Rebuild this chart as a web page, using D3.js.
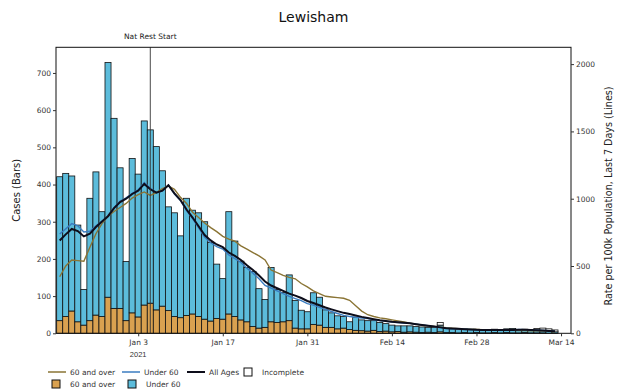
<!DOCTYPE html>
<html><head><meta charset="utf-8">
<script src="https://cdn.jsdelivr.net/npm/d3@7"></script>
<style>body{margin:0;background:#fff}svg{display:block;font-family:"DejaVu Sans",sans-serif}</style>
</head><body><svg id="c" width="620" height="391"></svg>
<script>
// ---- data ----
const title = "Lewisham";
const startDate = "2020-12-21";
const casesOver60 = [34,45,60,31,22,34,49,45,97,67,67,34,55,44,76,81,63,73,61,45,42,48,52,45,38,33,40,38,52,45,36,31,18,14,16,31,29,31,34,14,12,12,24,22,16,16,12,14,10,8,7,6,8,5,6,4,5,3,4,3,2,3,2,4,2,2,1,2,1,2,1,1,2,1,2,1,1,2,1,1,1,0,0];
const casesTotal = [421,430,423,291,118,363,434,327,728,578,445,193,470,428,571,547,502,437,340,324,262,363,331,324,300,244,186,147,327,248,194,177,166,120,91,177,118,110,157,88,62,58,109,97,63,55,47,45,31,43,36,34,34,29,26,22,20,20,20,18,17,16,16,22,14,12,11,12,10,11,9,10,11,9,12,13,10,11,10,9,8,6,4];
const casesIncomplete = [0,0,0,0,0,0,0,0,0,0,0,0,0,0,0,0,0,0,0,0,0,0,0,0,0,0,0,0,0,0,0,0,0,0,0,0,0,0,0,0,0,0,0,0,0,0,0,0,0,0,0,0,0,0,0,0,0,0,0,0,0,0,0,7,0,0,0,0,0,0,0,0,0,0,0,0,0,0,0,4,6,6,5];
const rateAll = [690,735,775,760,720,740,790,830,870,930,975,1000,1035,1060,1110,1070,1045,1060,1100,1040,990,920,860,795,730,690,660,640,600,575,545,505,470,430,385,355,335,315,295,280,262,240,225,208,192,178,165,152,143,132,122,114,105,97,92,86,82,78,74,68,62,56,50,44,38,35,33,30,28,26,25,24,24,25,25,25,27,26,24,22,20,18,15];
const rateOver60 = [420,500,545,540,535,640,740,815,870,905,935,965,1005,1030,1050,1025,1045,1075,1095,1070,1010,965,900,860,820,785,755,720,700,685,650,625,600,575,545,470,450,430,415,405,370,345,315,295,275,270,265,260,245,205,165,138,125,115,108,100,92,84,75,68,60,54,50,46,42,38,35,32,30,28,26,25,24,23,22,22,21,20,19,18,17,15,12];
const rateUnder60 = [738,776,815,799,753,758,799,833,870,934,982,1006,1040,1065,1121,1078,1045,1058,1101,1035,986,912,853,784,714,673,644,626,582,555,526,484,447,405,356,335,315,295,274,258,243,221,209,193,178,162,147,133,125,119,114,109,101,94,89,84,80,77,74,68,62,56,50,44,37,34,33,30,28,26,25,24,24,25,25,25,28,27,25,23,21,19,16];
const xTickDates = ["2021-01-03","2021-01-17","2021-01-31","2021-02-14","2021-02-28","2021-03-14"];
const xTickLabels = ["Jan 3","Jan 17","Jan 31","Feb 14","Feb 28","Mar 14"];
const leftTicks = [0,100,200,300,400,500,600,700];
const rightTicks = [0,500,1000,1500,2000];
const eventDate = "2021-01-05", eventLabel = "Nat Rest Start";
const legendRow1 = [["line","60 and over"],["line","Under 60"],["line","All Ages"],["box","Incomplete"]];
const legendRow2 = [["box","60 and over"],["box","Under 60"]];

// ---- setup ----
const C = {o60bar:"#d9a150", u60bar:"#5cbcdb", o60line:"#8a7434", u60line:"#3b7dc0", all:"#0d0d1a"};
const parse = d3.timeParse("%Y-%m-%d");
const d0 = parse(startDate);
const days = casesTotal.map((_,i)=>d3.timeDay.offset(d0,i));
const L=56,R=571,T=47.3,B=333.3;
const x = d3.scaleTime().domain([new Date(2020,11,20,9,20), new Date(2021,2,15,15,36)]).range([L,R]);
const yL = d3.scaleLinear().domain([0,769]).range([B,T]);
const yR = d3.scaleLinear().domain([0,2125]).range([B,T]);
const svg = d3.select("#c");
const dayW = x(d3.timeDay.offset(d0,1)) - x(d0);

// bars
const g = svg.append("g");
days.forEach((d,i)=>{
  const xc = x(d), x0 = xc - dayW/2;
  const o = casesOver60[i], tot = casesTotal[i], inc = casesIncomplete[i];
  const segs = [[0,o,C.o60bar],[o,tot,C.u60bar],[tot,tot+inc,"#fff"]];
  segs.forEach(([a,b,col])=>{
    if(b<=a) return;
    g.append("rect").attr("x",x0).attr("width",dayW)
     .attr("y",yL(b)).attr("height",yL(a)-yL(b))
     .attr("fill",col).attr("stroke","#111").attr("stroke-width",0.8);
  });
});

// lines
const mk = (arr)=>d3.line().x((d,i)=>x(days[i])).y(d=>yR(d))(arr);
svg.append("path").attr("d",mk(rateOver60)).attr("fill","none").attr("stroke",C.o60line).attr("stroke-width",1.4);
svg.append("path").attr("d",mk(rateUnder60)).attr("fill","none").attr("stroke",C.u60line).attr("stroke-width",1.4);
svg.append("path").attr("d",mk(rateAll)).attr("fill","none").attr("stroke",C.all).attr("stroke-width",2);

// event line
const ex = x(parse(eventDate));
svg.append("line").attr("x1",ex).attr("x2",ex).attr("y1",T).attr("y2",B).attr("stroke","#333").attr("stroke-width",0.9);
svg.append("text").attr("x",ex).attr("y",T-8).attr("text-anchor","middle").attr("font-size",7.5).attr("fill","#222").text(eventLabel);

// frame
svg.append("rect").attr("x",L).attr("y",T).attr("width",R-L).attr("height",B-T).attr("fill","none").attr("stroke","#111").attr("stroke-width",1);

// axes
const axL = svg.append("g").attr("transform",`translate(${L},0)`).call(d3.axisLeft(yL).tickValues(leftTicks).tickFormat(d3.format("d")).tickSize(3).tickPadding(2));
const axR = svg.append("g").attr("transform",`translate(${R},0)`).call(d3.axisRight(yR).tickValues(rightTicks).tickFormat(d3.format("d")).tickSize(3).tickPadding(2));
const axB = svg.append("g").attr("transform",`translate(0,${B})`).call(d3.axisBottom(x).tickValues(xTickDates.map(parse)).tickFormat((d,i)=>xTickLabels[i]).tickSize(3).tickPadding(3));
[axL,axR,axB].forEach(a=>{a.select(".domain").remove();a.selectAll("text").attr("font-size",7.5).attr("fill","#333").attr("font-family","DejaVu Sans");a.selectAll("line").attr("stroke","#333");});
axB.append("text").attr("x",x(parse(xTickDates[0]))).attr("y",24).attr("text-anchor","middle").attr("font-size",7.5).attr("fill","#333").text("2021");

// labels
svg.append("text").attr("x",(L+R)/2).attr("y",22).attr("text-anchor","middle").attr("font-size",14).attr("fill","#111").text(title);
svg.append("text").attr("transform",`translate(20,${(T+B)/2}) rotate(-90)`).attr("text-anchor","middle").attr("font-size",10).attr("fill","#222").text("Cases (Bars)");
svg.append("text").attr("transform",`translate(612,196) rotate(-90)`).attr("text-anchor","middle").attr("font-size",9.6).attr("fill","#222").text("Rate per 100k Population, Last 7 Days (Lines)");

// legend
const lg = svg.append("g").attr("font-size",7.5).attr("fill","#333");
const row1Col = [C.o60line, C.u60line, C.all, "#fff"];
let xs1 = [48,122,187,244];
legendRow1.forEach(([t,lab],i)=>{
  const y=372;
  if(t==="line") lg.append("line").attr("x1",xs1[i]).attr("x2",xs1[i]+18).attr("y1",y).attr("y2",y).attr("stroke",row1Col[i]).attr("stroke-width",i===2?2:1.5);
  else lg.append("rect").attr("x",xs1[i]).attr("y",y-4).attr("width",8).attr("height",8).attr("fill","#fff").attr("stroke","#111");
  lg.append("text").attr("x",xs1[i]+(t==="line"?22:18)).attr("y",y+2.7).text(lab);
});
const row2Col=[C.o60bar,C.u60bar]; const xs2=[52,128];
legendRow2.forEach(([t,lab],i)=>{
  const y=384;
  lg.append("rect").attr("x",xs2[i]).attr("y",y-4).attr("width",8).attr("height",8).attr("fill",row2Col[i]).attr("stroke","#111");
  lg.append("text").attr("x",xs2[i]+18).attr("y",y+2.7).text(lab);
});
</script></body></html>
